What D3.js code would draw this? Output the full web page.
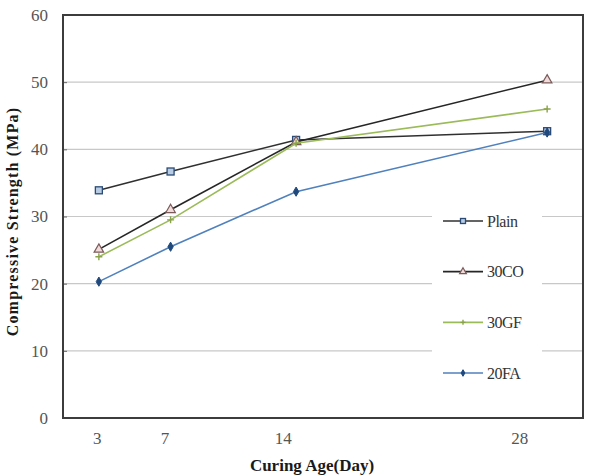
<!DOCTYPE html>
<html>
<head>
<meta charset="utf-8">
<script src="https://cdn.jsdelivr.net/npm/d3@7"></script>
<style>
  body { margin: 0; background: #fff; }
  svg { display: block; font-family: "Liberation Serif", "Times New Roman", serif; }
</style>
</head>
<body>
<div id="chart"></div>
<script>

// data
var days = [3, 7, 14, 28];
var plain = [33.9, 36.7, 41.4, 42.7];
var co30 = [25.1, 31.0, 41.1, 50.3];
var gf30 = [24.0, 29.5, 40.9, 46.0];
var fa20 = [20.3, 25.5, 33.7, 42.5];
var yTicks = [0, 10, 20, 30, 40, 50, 60];

var series = [
  { name: "Plain", values: plain, line: "#303030", shape: "square", fill: "#b8cce4", stroke: "#2b4a75" },
  { name: "30CO", values: co30, line: "#262626", shape: "triangle", fill: "#f2dcdb", stroke: "#7a5a5a" },
  { name: "30GF", values: gf30, line: "#9bbb59", shape: "plus", fill: "none", stroke: "#8aa34a" },
  { name: "20FA", values: fa20, line: "#4f81bd", shape: "diamond", fill: "#1f497d", stroke: "#1f497d" }
];

var width = 592, height = 476;
var plotLeft = 63, plotRight = 583, plotTop = 15, plotBottom = 418;

var svg = d3.select("#chart").append("svg")
  .attr("width", width)
  .attr("height", height);

var x = d3.scaleLinear().domain([1, 30]).range([plotLeft, plotRight]);
// tick labels in the source sit slightly left of the points (squeezed)
var xLabel = d3.scaleLinear().domain([1, 30]).range([plotLeft, 553]);
var y = d3.scaleLinear().domain([0, 60]).range([plotBottom, plotTop]);

// gridlines
svg.append("g")
  .selectAll("line")
  .data(yTicks.filter(d => d > 0 && d < 60))
  .enter()
  .append("line")
  .attr("x1", plotLeft)
  .attr("x2", plotRight)
  .attr("y1", d => y(d))
  .attr("y2", d => y(d))
  .attr("stroke", "#c8c8c8")
  .attr("stroke-width", 1.2);

// y axis
var yAxis = d3.axisLeft(y).tickValues(yTicks).tickSize(-4).tickPadding(15);
svg.append("g")
  .attr("transform", `translate(${plotLeft},0)`)
  .call(yAxis)
  .call(g => g.select(".domain").remove())
  .call(g => g.selectAll("line").attr("stroke", "#666"))
  .call(g => g.selectAll("text")
    .attr("fill", "#555")
    .style("font-size", "17px")
    .style("font-family", "'Liberation Serif', serif"));

// x axis (labels only)
var xAxis = d3.axisBottom(xLabel).tickValues(days).tickSize(0).tickPadding(14);
svg.append("g")
  .attr("transform", `translate(0,${plotBottom})`)
  .call(xAxis)
  .call(g => g.select(".domain").remove())
  .call(g => g.selectAll("text")
    .attr("fill", "#555")
    .style("font-size", "17px")
    .style("font-family", "'Liberation Serif', serif"));

// frame
svg.append("rect")
  .attr("x", plotLeft)
  .attr("y", plotTop)
  .attr("width", plotRight - plotLeft)
  .attr("height", plotBottom - plotTop)
  .attr("fill", "none")
  .attr("stroke", "#3c3c3c")
  .attr("stroke-width", 2);

// marker helper
function marker(g, s, size) {
  if (s.shape === "square") {
    g.append("rect")
      .attr("x", -size / 2).attr("y", -size / 2)
      .attr("width", size).attr("height", size)
      .attr("fill", s.fill).attr("stroke", s.stroke).attr("stroke-width", 1.3);
  } else if (s.shape === "triangle") {
    g.append("path")
      .attr("d", d3.symbol(d3.symbolTriangle, size * size * 0.8)())
      .attr("fill", s.fill).attr("stroke", s.stroke).attr("stroke-width", 1.2);
  } else if (s.shape === "plus") {
    g.append("path")
      .attr("d", `M${-size / 2},0H${size / 2}M0,${-size / 2}V${size / 2}`)
      .attr("stroke", s.stroke).attr("stroke-width", 1.4);
  } else {
    g.append("path")
      .attr("d", d3.symbol(d3.symbolDiamond, size * size * 0.5)())
      .attr("fill", s.fill).attr("stroke", s.stroke);
  }
}

var line = d3.line()
  .x(d => x(d[0]))
  .y(d => y(d[1]));

series.forEach(s => {
  var pts = days.map((d, i) => [d, s.values[i]]);
  svg.append("path")
    .datum(pts)
    .attr("d", line)
    .attr("fill", "none")
    .attr("stroke", s.line)
    .attr("stroke-width", 1.6);
  svg.append("g")
    .selectAll("g")
    .data(pts)
    .enter()
    .append("g")
    .attr("transform", d => `translate(${x(d[0])},${y(d[1])})`)
    .each(function () { marker(d3.select(this), s, 7); });
});

// legend
var legend = svg.append("g");
legend.append("rect")
  .attr("x", 432)
  .attr("y", 196)
  .attr("width", 110)
  .attr("height", 200)
  .attr("fill", "#fff");

var legendY = d3.scalePoint()
  .domain(series.map(s => s.name))
  .range([221, 373]);

series.forEach(s => {
  var ly = legendY(s.name);
  legend.append("line")
    .attr("x1", 443).attr("x2", 483)
    .attr("y1", ly).attr("y2", ly)
    .attr("stroke", s.line)
    .attr("stroke-width", 1.6);
  var m = legend.append("g").attr("transform", `translate(463,${ly})`);
  marker(m, s, 5);
  legend.append("text")
    .attr("x", 487)
    .attr("y", ly)
    .attr("dy", "0.35em")
    .attr("fill", "#333")
    .style("font-size", "16px")
    .style("letter-spacing", "-0.5px")
    .text(s.name);
});

// axis titles
svg.append("text")
  .attr("transform", `translate(18,${(plotTop + plotBottom) / 2 + 5}) rotate(-90)`)
  .attr("text-anchor", "middle")
  .style("font-size", "16px")
  .style("font-weight", "bold")
  .style("letter-spacing", "1.2px")
  .attr("fill", "#1a1a1a")
  .text("Compressive Strength (MPa)");

svg.append("text")
  .attr("x", 312)
  .attr("y", 471)
  .attr("text-anchor", "middle")
  .style("font-size", "17px")
  .style("font-weight", "bold")
  .attr("fill", "#1a1a1a")
  .text("Curing Age(Day)");

</script>
</body>
</html>
